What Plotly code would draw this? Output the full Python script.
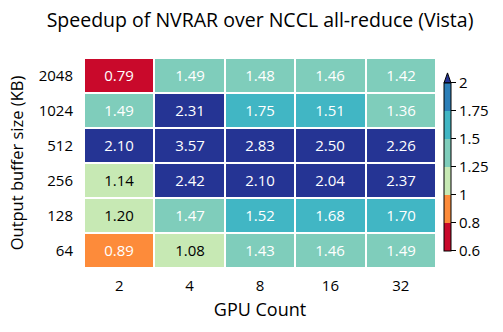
import numpy as np
import plotly.graph_objects as go

# data
gpu_counts = ["2", "4", "8", "16", "32"]
buffer_sizes = ["64", "128", "256", "512", "1024", "2048"]  # bottom -> top
speedup = [
    [0.89, 1.08, 1.43, 1.46, 1.49],    # 64
    [1.20, 1.47, 1.52, 1.68, 1.70],    # 128
    [1.14, 2.42, 2.10, 2.04, 2.37],    # 256
    [2.10, 3.57, 2.83, 2.50, 2.26],    # 512
    [1.49, 2.31, 1.749, 1.51, 1.36],   # 1024 (1.75 cell is coloured below 1.75)
    [0.79, 1.49, 1.48, 1.46, 1.42],    # 2048
]
bounds = [0.6, 0.8, 1.0, 1.25, 1.5, 1.75, 2.0]
bound_labels = ["0.6", "0.8", "1", "1.25", "1.5", "1.75", "2"]
bin_colors = ["#c9092b", "#fd8b3a", "#c7e9b4", "#7fcdbb", "#41b6c4", "#2c7fb8"]
over_color = "#253494"

FONT = "'Open Sans', Lato, sans-serif"

v = np.array(speedup)
idx = np.interp(v, bounds, np.arange(len(bounds)))  # evenly spaced bins
over = v > bounds[-1]
light = (v >= 1.0) & (v < 1.25)
txt = np.vectorize(lambda a: f"{a:.2f}")(v)

n = len(bin_colors)
cscale = []
for i, c in enumerate(bin_colors):
    cscale += [[i / n, c], [(i + 1) / n, c]]


def part(mask, z, **kw):
    return go.Heatmap(
        x=gpu_counts, y=buffer_sizes,
        z=np.where(mask, z, np.nan),
        text=np.where(mask, txt, ""), texttemplate="%{text}",
        xgap=2, ygap=2, hoverinfo="skip", **kw,
    )


cell_font = 15
fig = go.Figure()
# in-range cells with white text (carry the colorbar)
fig.add_trace(part(~over & ~light, idx, colorscale=cscale, zmin=0, zmax=n,
                   textfont=dict(color="white", size=cell_font, family=FONT),
                   colorbar=dict(
                       tickvals=list(range(len(bounds))), ticktext=bound_labels,
                       ticks="outside", ticklen=5, tickwidth=1, tickcolor="black",
                       thickness=7, lenmode="pixels", len=168,
                       x=1.0227, xanchor="left", xpad=0,
                       y=0.481, yanchor="middle", ypad=0,
                       outlinewidth=1, outlinecolor="black",
                       tickfont=dict(size=15, family=FONT, color="black"),
                   )))
# light green cells with dark text
fig.add_trace(part(light, idx, colorscale=cscale, zmin=0, zmax=n, showscale=False,
                   textfont=dict(color="black", size=cell_font, family=FONT)))
# values above the top bound
fig.add_trace(part(over, np.ones_like(v), colorscale=[[0, over_color], [1, over_color]],
                   showscale=False,
                   textfont=dict(color="white", size=cell_font, family=FONT)))

# extend arrow on top of the colorbar
fig.add_shape(type="path", xref="paper", yref="paper",
              path="M 1.0227,0.881 L 1.0426,0.881 L 1.0327,0.929 Z",
              fillcolor=over_color, line=dict(color="black", width=1))

fig.update_layout(
    width=503, height=332,
    margin=dict(l=84, r=67, t=58, b=64, autoexpand=False),
    paper_bgcolor="white", plot_bgcolor="white",
    font=dict(family=FONT, color="black"),
    title=dict(text="Speedup of NVRAR over NCCL all-reduce (Vista)",
               x=0.517, xanchor="center", y=0.94, yanchor="middle",
               font=dict(size=19.5, family=FONT)),
    xaxis=dict(title=dict(text="GPU Count", font=dict(size=18), standoff=9),
               type="category", tickfont=dict(size=15), showgrid=False,
               zeroline=False, ticklabelstandoff=7, automargin=False),
    yaxis=dict(title=dict(text="Output buffer size (KB)", font=dict(size=16.5), standoff=10),
               type="category", tickfont=dict(size=15), showgrid=False,
               zeroline=False, ticklabelstandoff=10, automargin=False),
)

# drop the browser's default body margin so the figure sits at the page origin
fig.write_html("out.html", config={"displayModeBar": False},
               post_script="document.body.style.margin='0';")
